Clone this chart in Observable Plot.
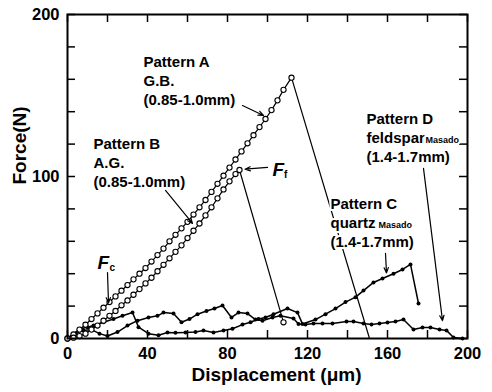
<!DOCTYPE html>
<html><head><meta charset="utf-8">
<script src="https://cdn.jsdelivr.net/npm/d3@7"></script>
<script src="https://cdn.jsdelivr.net/npm/@observablehq/plot@0.6"></script>
<style>
body{margin:0;background:#fff}
svg text{font-weight:bold}
</style>
</head><body><div id="chart"></div>
<script>
// ---- data ----
const xTickValues = [0,20,40,60,80,100,120,140,160,180,200];
const yTickValues = [0,20,40,60,80,100,120,140,160,180,200];
const xTickLabels = [0,40,80,120,160,200];
const yTickLabels = [0,100,200];

// Pattern A (G.B.) loading branch, open circles
const aX = [0,3,6,9,12,15,18,21,24,27,30,33,36,39,42,45,48,51,54,57,60,63,66,69,72,75,78,81,84,87,90,93,96,99,102,105,108,112];
const aY = [0,2.5,5.5,8.5,12,15.5,19,22.5,26,29.5,33,36.5,40,43.5,47.5,51.5,55.5,60,64,68,72,76.5,81,85.5,90.5,95.5,100.5,105.5,110.5,115.5,120.5,125.5,130.5,135.5,141,147,153.5,161];
// Pattern A unloading
const aDropX = [112,151];
const aDropY = [161,0];

// Pattern B (A.G.) loading branch, open circles
const bX = [0,3,6,9,12,15,18,21,24,27,30,33,36,39,42,45,48,51,54,57,60,63,66,69,72,75,78,81,84,86];
const bY = [0,0.5,1.5,3,5.5,8,11,14,17,20.5,23.5,27,30.5,34,37.5,41.5,45.5,49.5,53.5,57.5,62,66.5,71,76,81,86.5,92,97,101.5,104];
const bDropX = [86,108];
const bDropY = [104,10];

// Pattern C (quartz), filled dots
const cX = [0,3,6.5,10,13,18,23,27.5,32.5,35.5,40.5,45.5,50,54,59,64,68,73,78,82.5,87.5,91.5,95.5,99,103,110,115,117.5,124,129,134,139,144,148,153,157.5,163,167.5,171.5,175.5];
const cY = [0,3,6,7,8,10,12,14,16,7,3,2,3.7,3.5,3.7,4,5,3.7,5,6,8.6,10,12,13,15,18.5,16,9,11.7,15,18.5,22.5,25.5,29.6,34.6,37,40,42.6,45.7,21.6];

// Pattern D (feldspar), filled dots
const dX = [0,4,8,12,16,20,25,30,35,40.5,45,48,53,57,61,65,69.5,73.5,77.5,82,85.5,90,94,97.5,102.5,106.5,113,115.5,119,123,127.5,132.5,139.5,143,148,152,156,160,164,168,173,177.5,181.5,186,189.5,193,197.5];
const dY = [0,3,5,5.5,3,1.5,4,8,11,13,14,16,15.4,10,12,15,17,18.5,20.4,13,16,15.4,11.7,11,13,14,12.3,9,8.6,9.3,9.3,9.3,10.5,10.5,9.3,8.6,9.3,9.9,10.5,11.7,5.6,6.8,6.8,5.6,5,0.6,0];

const zip = (xs, ys) => xs.map((x, i) => ({x, y: ys[i]}));
const A = zip(aX, aY), Adrop = zip(aDropX, aDropY);
const B = zip(bX, bY), Bdrop = zip(bDropX, bDropY);
const C = zip(cX, cY), D = zip(dX, dY);

const font = "Liberation Sans, Arial, Helvetica, sans-serif";
const lbl = 15, lh = 19;
const halo = {stroke: "white", strokeWidth: 4, paintOrder: "stroke"};

function lines(texts, x, y) {
  return texts.map((t, i) => Plot.text([t], {x, y, dy: i * lh, text: d => d, textAnchor: "start", lineAnchor: "top", fontSize: lbl, fontWeight: "bold", fill: "black", ...halo}));
}
function sub(t, x, y, dx, dy, size) {
  return Plot.text([t], {x, y, dx, dy, text: d => d, textAnchor: "start", lineAnchor: "top", fontSize: size, fontWeight: "bold", fill: "black", ...halo});
}
function arrow(x1, y1, x2, y2) {
  return Plot.arrow([0], {x1, y1, x2, y2, stroke: "black", strokeWidth: 1.2, headLength: 7, headAngle: 45});
}

const chart = Plot.plot({
  width: 492, height: 392,
  marginLeft: 67, marginRight: 25, marginTop: 14, marginBottom: 54,
  x: {domain: [0, 200]},
  y: {domain: [0, 200]},
  style: {fontFamily: font, background: "white", color: "black"},
  marks: [
    // ticks pointing inward on all four sides
    Plot.tickX(xTickValues, {x: d => d, insetTop: 316, stroke: "black", strokeWidth: 1.5}),
    Plot.tickX(xTickValues, {x: d => d, insetBottom: 316, stroke: "black", strokeWidth: 1.5}),
    Plot.tickY(yTickValues, {y: d => d, insetRight: 392, stroke: "black", strokeWidth: 1.5}),
    Plot.tickY(yTickValues, {y: d => d, insetLeft: 392, stroke: "black", strokeWidth: 1.5}),
    Plot.axisX(xTickLabels, {tickSize: 0, tickPadding: 9, fontSize: 16.5, label: null}),
    Plot.axisY(yTickLabels, {tickSize: 0, tickPadding: 8, fontSize: 16.5, label: null}),
    Plot.text(["Displacement (\u03bcm)"], {frameAnchor: "bottom", dx: 9, dy: 42, fontSize: 19, text: d => d}),
    Plot.text(["Force(N)"], {frameAnchor: "left", rotate: -90, dx: -48, dy: 8, fontSize: 19, text: d => d}),

    // series
    Plot.line(D, {x: "x", y: "y", stroke: "black", strokeWidth: 1.5}),
    Plot.dot(D, {x: "x", y: "y", r: 2, fill: "black"}),
    Plot.line(C, {x: "x", y: "y", stroke: "black", strokeWidth: 1.5}),
    Plot.dot(C, {x: "x", y: "y", r: 2, fill: "black"}),
    Plot.line(Adrop, {x: "x", y: "y", stroke: "black", strokeWidth: 1.2}),
    Plot.line(Bdrop, {x: "x", y: "y", stroke: "black", strokeWidth: 1.2}),
    Plot.line(A, {x: "x", y: "y", stroke: "black", strokeWidth: 1.2}),
    Plot.dot(A, {x: "x", y: "y", r: 2.6, fill: "white", stroke: "black", strokeWidth: 1.1}),
    Plot.line(B, {x: "x", y: "y", stroke: "black", strokeWidth: 1.2}),
    Plot.dot(B, {x: "x", y: "y", r: 2.6, fill: "white", stroke: "black", strokeWidth: 1.1}),
    Plot.dot([Bdrop[1]], {x: "x", y: "y", r: 2.6, fill: "white", stroke: "black", strokeWidth: 1.1}),

    // annotations
    ...lines(["Pattern A", "G.B.", "(0.85-1.0mm)"], 38, 174),
    ...lines(["Pattern B", "A.G.", "(0.85-1.0mm)"], 13, 123.5),
    ...lines(["Pattern C", "quartz", "(1.4-1.7mm)"], 131.5, 86.4),
    sub("Masado", 131.5, 86.4, 48, lh + 4.5, 9),
    ...lines(["Pattern D", "feldspar", "(1.4-1.7mm)"], 149.5, 139),
    sub("Masado", 149.5, 139, 59, lh + 4.5, 9),
    Plot.text(["F"], {x: 102.5, y: 108.6, text: d => d, textAnchor: "start", lineAnchor: "top", fontSize: 19, fontStyle: "italic"}),
    sub("f", 102.5, 108.6, 11.5, 8, 10),
    Plot.text(["F"], {x: 15, y: 51.2, text: d => d, textAnchor: "start", lineAnchor: "top", fontSize: 19, fontStyle: "italic"}),
    sub("c", 15, 51.2, 12, 8, 10),
    arrow(87.5, 143.8, 98, 137.7),
    arrow(49, 91.4, 62.5, 71),
    arrow(100, 105.6, 88.8, 104.5),
    arrow(20, 40.7, 20.5, 22),
    arrow(159, 52.5, 159.5, 40.5),
    arrow(178, 105, 187.5, 11),

    Plot.frame({stroke: "black", strokeWidth: 2})
  ]
});
document.getElementById("chart").appendChild(chart);
</script>
</body></html>
